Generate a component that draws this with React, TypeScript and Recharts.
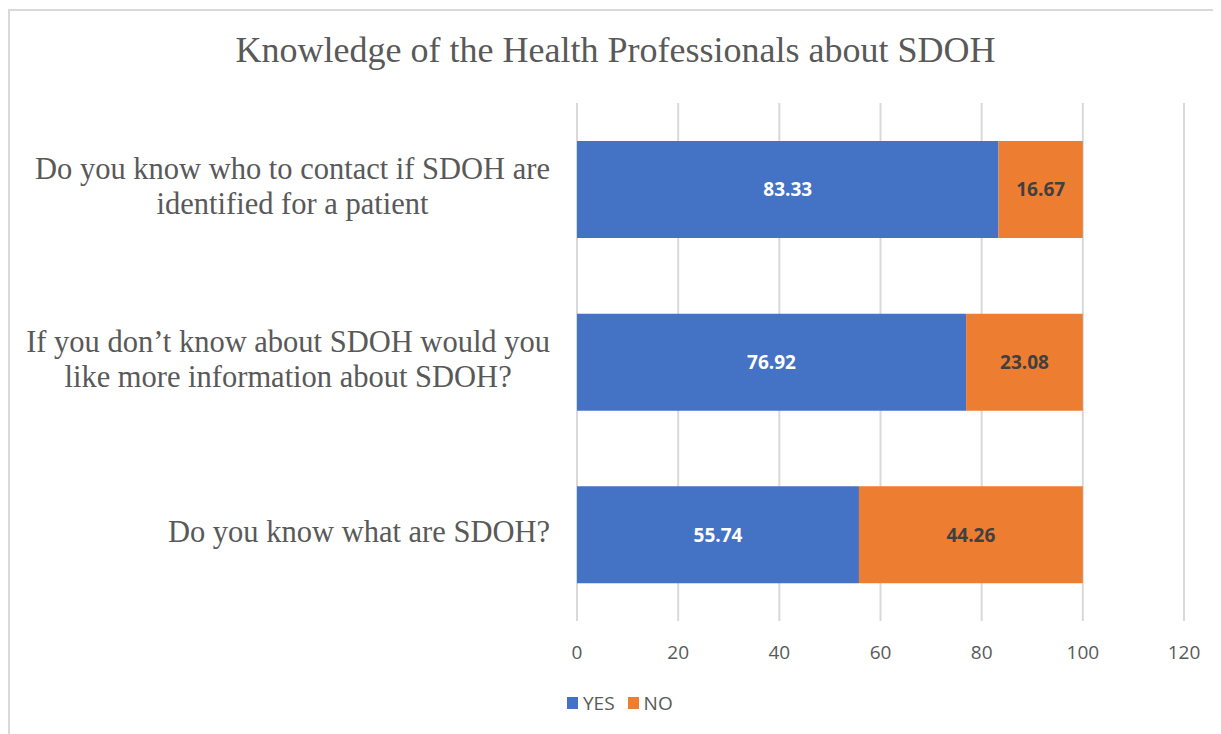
import React from "react";
import { BarChart, Bar, XAxis, YAxis, CartesianGrid, Legend, LabelList } from "recharts";

const labelLines: string[][] = [
  ["Do you know who to contact if SDOH are", "identified for a patient"],
  ["If you don\u2019t know about SDOH would you", "like more information about SDOH?"],
  ["Do you know what are SDOH?"],
];
const categories = labelLines.map((l) => l.join(" "));
const yesValues = [83.33, 76.92, 55.74];
const noValues = [16.67, 23.08, 44.26];
const xTicks = [0, 20, 40, 60, 80, 100, 120];
const seriesNames = ["YES", "NO"];
const title = "Knowledge of the Health Professionals about SDOH";

const data = categories.map((c, i) => ({ name: c, yes: yesValues[i], no: noValues[i] }));

const Y_SIZE = 30.5;
const Y_FONT = `${Y_SIZE}px 'Liberation Serif'`;
let ctx: CanvasRenderingContext2D | null = null;
const measure = (s: string) => {
  if (!ctx) ctx = document.createElement("canvas").getContext("2d");
  if (!ctx) return s.length * 13;
  ctx.font = Y_FONT;
  return ctx.measureText(s).width;
};

const YTick = (props: any) => {
  const { x, y, payload } = props;
  const idx = categories.indexOf(payload.value);
  const lines = idx >= 0 ? labelLines[idx] : [String(payload.value)];
  const maxW = Math.max(...lines.map(measure));
  const cx = x - maxW / 2;
  const lh = 35;
  const start = -((lines.length - 1) / 2) * lh;
  return (
    <text
      x={cx}
      y={y}
      textAnchor="middle"
      fill="#595959"
      style={{ fontFamily: "'Liberation Serif', serif", fontSize: Y_SIZE }}
    >
      {lines.map((l, i) => (
        <tspan key={i} x={cx} y={y + start + i * lh} dy="0.25em">
          {l}
        </tspan>
      ))}
    </text>
  );
};

const LegendContent = (props: any) => {
  const payload = [...(props.payload || [])].sort(
    (a: any, b: any) => seriesNames.indexOf(a.value) - seriesNames.indexOf(b.value)
  );
  return (
    <div style={{ display: "flex", alignItems: "center", fontFamily: "'Open Sans', sans-serif", fontSize: 19, color: "#595959" }}>
      {payload.map((p: any, i: number) => (
        <div key={i} style={{ display: "flex", alignItems: "center", marginRight: 13 }}>
          <span style={{ display: "inline-block", width: 11, height: 12, background: p.color, marginRight: 5 }} />
          <span>{p.value}</span>
        </div>
      ))}
    </div>
  );
};

export default function App() {
  return (
    <div
      style={{
        position: "relative",
        width: 1211,
        height: 724,
        borderTop: "2px solid #d9d9d9",
        borderLeft: "2px solid #d9d9d9",
        marginTop: 1,
        background: "#fff",
      }}
    >
      <div
        style={{
          position: "absolute",
          left: 0,
          width: 1211,
          top: 19,
          textAlign: "center",
          fontFamily: "'Liberation Serif', serif",
          fontSize: 36,
          color: "#595959",
          lineHeight: "40px",
        }}
      >
        {title}
      </div>
      <BarChart
        width={1211}
        height={724}
        data={data}
        layout="vertical"
        margin={{ top: 92, right: 37, bottom: 70, left: 0 }}
        barCategoryGap="22%"
      >
        <CartesianGrid horizontal={false} stroke="#d9d9d9" strokeWidth={2} />
        <XAxis
          type="number"
          domain={[0, 120]}
          ticks={xTicks}
          axisLine={false}
          tickLine={false}
          tickSize={0}
          tickMargin={25}
          height={44}
          interval={0}
          tick={{ fill: "#595959", fontSize: 19, fontFamily: "'Open Sans', sans-serif" }}
        />
        <YAxis
          type="category"
          dataKey="name"
          width={567}
          axisLine={false}
          tickLine={false}
          tickSize={0}
          tickMargin={27}
          interval={0}
          tick={<YTick />}
        />
        <Legend
          layout="vertical"
          align="center"
          verticalAlign="middle"
          content={<LegendContent />}
          wrapperStyle={{ position: "absolute", left: 557, top: 679, width: 200, bottom: "auto", right: "auto" }}
        />
        <Bar dataKey="yes" name={seriesNames[0]} stackId="a" fill="#4472C4" isAnimationActive={false}>
          <LabelList
            dataKey="yes"
            position="center"
            fill="#ffffff"
            style={{ fontFamily: "'Open Sans', sans-serif", fontSize: 19, fontWeight: 700 }}
          />
        </Bar>
        <Bar dataKey="no" name={seriesNames[1]} stackId="a" fill="#ED7D31" isAnimationActive={false}>
          <LabelList
            dataKey="no"
            position="center"
            fill="#404040"
            style={{ fontFamily: "'Open Sans', sans-serif", fontSize: 19, fontWeight: 700 }}
          />
        </Bar>
      </BarChart>
    </div>
  );
}
